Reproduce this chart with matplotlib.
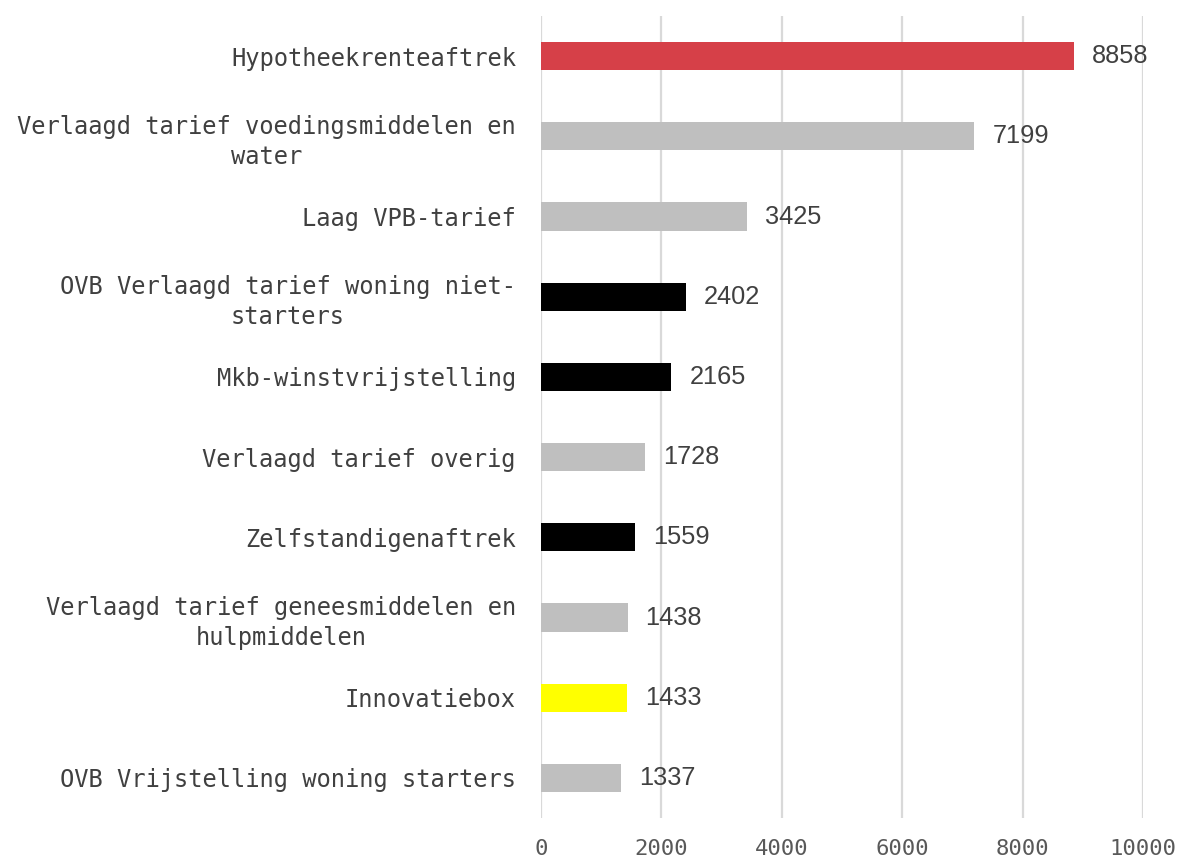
import matplotlib.pyplot as plt

categories = [
    "Hypotheekrenteaftrek",
    "Verlaagd tarief voedingsmiddelen en\nwater",
    "Laag VPB-tarief",
    "OVB Verlaagd tarief woning niet-\nstarters",
    "Mkb-winstvrijstelling",
    "Verlaagd tarief overig",
    "Zelfstandigenaftrek",
    "Verlaagd tarief geneesmiddelen en\nhulpmiddelen",
    "Innovatiebox",
    "OVB Vrijstelling woning starters",
]
values = [8858, 7199, 3425, 2402, 2165, 1728, 1559, 1438, 1433, 1337]
bar_colors = ["#D64048", "#BFBFBF", "#BFBFBF", "#000000", "#000000",
              "#BFBFBF", "#000000", "#BFBFBF", "#FFFF00", "#BFBFBF"]
xticks = [0, 2000, 4000, 6000, 8000, 10000]

fig = plt.figure(figsize=(11.83, 8.6), dpi=100)
ax = fig.add_axes([0.4573, 0.0488, 0.5089, 0.9326])

pos = list(range(len(values)))
ax.barh(pos, values, height=0.35, color=bar_colors, zorder=3)
for p, v in zip(pos, values):
    ax.annotate(str(v), (v, p), xytext=(13, 0), textcoords="offset points",
                ha="left", va="center", fontsize=18.3, color="#404040",
                family="Liberation Sans")

ax.set_xlim(0, 10000)
ax.set_ylim(len(values) - 0.5, -0.5)
ax.set_xticks(xticks)
ax.set_xticklabels([str(t) for t in xticks], family="DejaVu Sans Mono",
                   fontsize=16, color="#595959")
ax.set_yticks(pos)
ax.set_yticklabels(categories, family="DejaVu Sans Mono", fontsize=17.1,
                   color="#404040", multialignment="center", linespacing=1.3)
ax.tick_params(axis="both", length=0)
ax.tick_params(axis="y", pad=18)
ax.tick_params(axis="x", pad=15)
ax.grid(axis="x", color="#D9D9D9", linewidth=1.6, zorder=0)
for s in ax.spines.values():
    s.set_visible(False)

fig.savefig("out.png", dpi=100, facecolor="white")
